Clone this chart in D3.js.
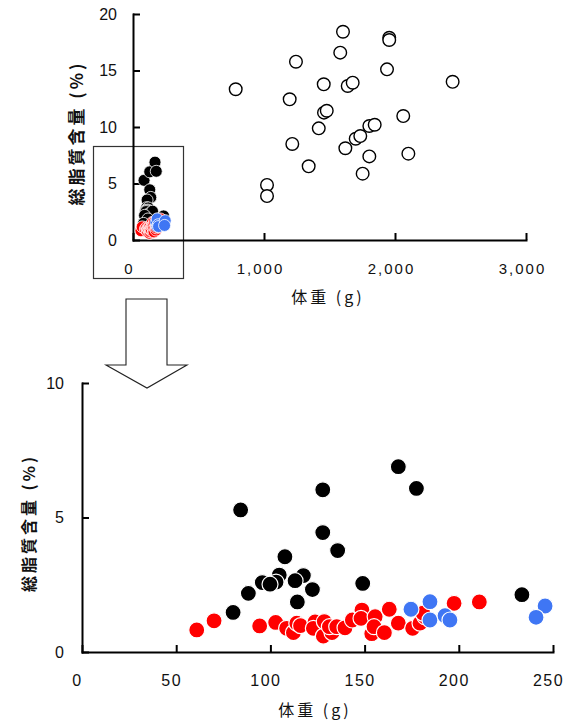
<!DOCTYPE html>
<html>
<head>
<meta charset="utf-8">
<script src="https://cdn.jsdelivr.net/npm/d3@7"></script>
<style>
  body { margin: 0; background: #fff; }
  svg text { font-family: "Liberation Sans", Arial, sans-serif; fill: #111; }
  .jp { font-family: "Noto Sans CJK JP", sans-serif; }
</style>
</head>
<body>
<div id="chart"></div>
<script>
'use strict';

// other species (open circles), body weight g / total lipid %
const otherWeight = [1603, 1956, 1956, 1582, 1244, 1939, 2440, 1456, 1639, 1677, 784, 1196,
  1458, 1479, 2063, 1804, 1845, 1418, 1216, 1700, 1735, 1621, 1804, 2102, 1341, 1753, 1023, 1023];
const otherLipid = [18.43, 17.9, 17.7, 16.58, 15.78, 15.1, 14.0, 13.78, 13.63, 13.92, 13.34, 12.45,
  11.27, 11.44, 10.97, 10.09, 10.2, 9.88, 8.5, 8.96, 9.2, 8.12, 7.4, 7.64, 6.52, 5.87, 4.87, 3.89];

// black group
const blackWeight = [84.2, 127.8, 167.9, 177.5, 127.8, 135.7, 107.7, 104.7, 117.5, 113.1, 95.7,
  103, 99.8, 122.3, 149, 88.3, 114.3, 80.2, 233.5];
const blackLipid = [5.28, 6.03, 6.89, 6.08, 4.44, 3.77, 3.54, 2.86, 2.84, 2.65, 2.58,
  2.6, 2.52, 2.32, 2.55, 2.18, 1.86, 1.47, 2.13];

// red group
const redWeight = [60.9, 70.1, 94.3, 102.8, 108.6, 112.2, 114, 116, 123.7, 122.8, 128.1, 128.6,
  132.7, 131.3, 135.2, 139.6, 143.5, 148.6, 148.1, 153.8, 155.6, 155, 160.5, 163.1, 167.9,
  175.5, 179.4, 182, 181, 197.5, 210.9];
const redLipid = [0.82, 1.16, 0.97, 1.1, 0.88, 0.72, 1.07, 0.98, 1.12, 0.88, 0.59, 1.13,
  0.72, 0.94, 0.94, 0.9, 1.19, 1.56, 1.25, 0.68, 1.31, 0.94, 0.72, 1.59, 1.07,
  0.88, 1.07, 1.31, 1.44, 1.81, 1.86];

// blue group
const blueWeight = [174.6, 184.7, 184.7, 192.7, 195.3, 245.8, 241];
const blueLipid = [1.59, 1.87, 1.19, 1.35, 1.19, 1.71, 1.29];

const topXTicks = [0, 1000, 2000, 3000];
const topYTicks = [0, 5, 10, 15, 20];
const botXTicks = [0, 50, 100, 150, 200, 250];
const botYTicks = [0, 5, 10];

const xLabel = "体重 (g)";
const yLabel = "総脂質含量 (%)";

const groups = [
  {w: blackWeight, l: blackLipid, color: "#000000"},
  {w: redWeight, l: redLipid, color: "#ff0000"},
  {w: blueWeight, l: blueLipid, color: "#3f76f4"}
];

const W = 571, H = 724;
const svg = d3.select("#chart").append("svg")
  .attr("width", W).attr("height", H);

// scales
const xTop = d3.scaleLinear().domain([0, 3000]).range([133, 526]);
const yTop = d3.scaleLinear().domain([0, 20]).range([240, 14]);
const xBot = d3.scaleLinear().domain([0, 250]).range([82, 553]);
const yBot = d3.scaleLinear().domain([0, 10]).range([652, 383]);

function styleAxis(g) {
  g.select(".domain").attr("stroke", "#000").attr("stroke-width", 2).attr("stroke-linecap", "square");
  g.selectAll(".tick line").attr("stroke", "#000").attr("stroke-width", 2);
  g.selectAll(".tick text").attr("fill", "#111").style("font-family", '"Liberation Sans", Arial, sans-serif');
}

// ****************** top chart ***************************

// zoom frame (drawn first so axis sits on top)
svg.append("rect")
  .attr("x", 93.5).attr("y", 146.5).attr("width", 90).attr("height", 132)
  .attr("fill", "none").attr("stroke", "#333").attr("stroke-width", 1.2);

const gTopX = svg.append("g")
  .attr("transform", "translate(0," + yTop(0) + ")")
  .call(d3.axisBottom(xTop).tickValues(topXTicks).tickFormat(d3.format(","))
    .tickSizeInner(-7).tickSizeOuter(0).tickPadding(23));
styleAxis(gTopX);
gTopX.selectAll(".tick text").attr("font-size", 15).attr("letter-spacing", "2px").attr("dx", -4);

const gTopY = svg.append("g")
  .attr("transform", "translate(" + xTop(0) + ",0)")
  .call(d3.axisLeft(yTop).tickValues(topYTicks)
    .tickSizeInner(-7).tickSizeOuter(0).tickPadding(16));
styleAxis(gTopY);
gTopY.selectAll(".tick text").attr("font-size", 16);

// open circles
svg.append("g").selectAll("circle")
  .data(d3.range(otherWeight.length))
  .join("circle")
  .attr("cx", i => xTop(otherWeight[i]))
  .attr("cy", i => yTop(otherLipid[i]))
  .attr("r", 6.3)
  .attr("fill", "#fff")
  .attr("stroke", "#000")
  .attr("stroke-width", 1.4);

// small groups in top chart
groups.forEach(function(gr) {
  svg.append("g").selectAll("circle")
    .data(d3.range(gr.w.length))
    .join("circle")
    .attr("cx", i => xTop(gr.w[i]))
    .attr("cy", i => yTop(gr.l[i]))
    .attr("r", 6)
    .attr("fill", gr.color)
    .attr("stroke", "#fff")
    .attr("stroke-width", 0.8);
});

svg.append("text").attr("class", "jp")
  .attr("x", 328).attr("y", 303)
  .attr("text-anchor", "middle").attr("font-size", 16)
  .attr("letter-spacing", "3px")
  .text(xLabel);

svg.append("text").attr("class", "jp")
  .attr("transform", "translate(83,133) rotate(-90)")
  .attr("text-anchor", "middle").attr("font-size", 17)
  .attr("font-weight", "bold")
  .attr("letter-spacing", "3px")
  .text(yLabel);

// ****************** arrow ***************************
const arrowPts = [[126, 299], [167, 299], [167, 365], [187, 365], [147, 388],
  [106, 365], [126, 365]];
svg.append("path")
  .attr("d", d3.line()(arrowPts) + "Z")
  .attr("fill", "#fff").attr("stroke", "#222").attr("stroke-width", 1.1);

// ****************** bottom chart ***************************

const gBotX = svg.append("g")
  .attr("transform", "translate(0," + yBot(0) + ")")
  .call(d3.axisBottom(xBot).tickValues(botXTicks)
    .tickSizeInner(-7).tickSizeOuter(0).tickPadding(23));
styleAxis(gBotX);
gBotX.selectAll(".tick text").attr("font-size", 16).attr("letter-spacing", "1.5px").attr("dx", -5);

const gBotY = svg.append("g")
  .attr("transform", "translate(" + xBot(0) + ",0)")
  .call(d3.axisLeft(yBot).tickValues(botYTicks)
    .tickSizeInner(-7).tickSizeOuter(0).tickPadding(18));
styleAxis(gBotY);
gBotY.selectAll(".tick text").attr("font-size", 16);

groups.forEach(function(gr) {
  svg.append("g").selectAll("circle")
    .data(d3.range(gr.w.length))
    .join("circle")
    .attr("cx", i => xBot(gr.w[i]))
    .attr("cy", i => yBot(gr.l[i]))
    .attr("r", 8)
    .attr("fill", gr.color)
    .attr("stroke", "#fff")
    .attr("stroke-width", 1.2);
});

svg.append("text").attr("class", "jp")
  .attr("x", 315).attr("y", 716)
  .attr("text-anchor", "middle").attr("font-size", 16)
  .attr("letter-spacing", "3px")
  .text(xLabel);

svg.append("text").attr("class", "jp")
  .attr("transform", "translate(35,523) rotate(-90)")
  .attr("text-anchor", "middle").attr("font-size", 16)
  .attr("font-weight", "bold")
  .attr("letter-spacing", "3px")
  .text(yLabel);
</script>
</body>
</html>
